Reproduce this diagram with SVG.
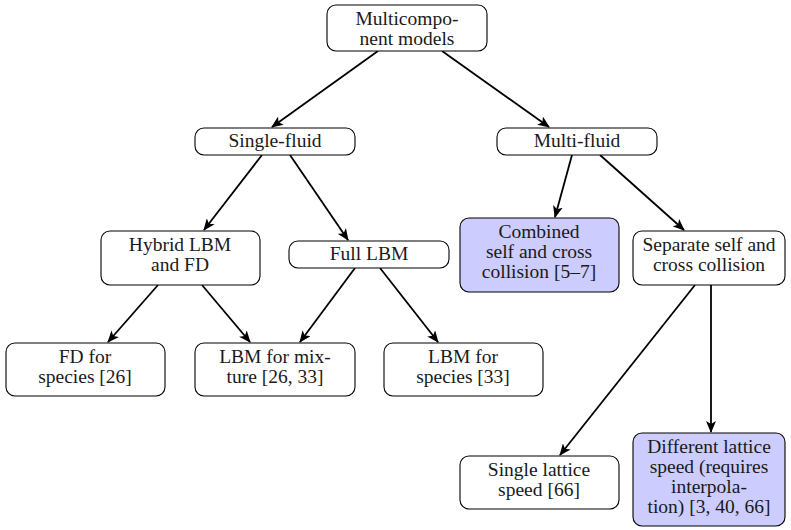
<svg xmlns="http://www.w3.org/2000/svg" width="791" height="530" viewBox="0 0 791 530">
<style>
.box{fill:#fff;stroke:#000;stroke-width:1.1}
.hl{fill:#ccccff;stroke:#000;stroke-width:1.1}
.lbl{font-family:"Liberation Serif","DejaVu Serif",serif;font-size:19.5px;fill:#1a1a1a;text-anchor:middle}
.edge{stroke:#000;stroke-width:1.8;fill:none;marker-end:url(#ah)}
</style>
<defs>
<marker id="ah" viewBox="0 0 12 10" refX="11" refY="5" markerWidth="12" markerHeight="10" markerUnits="userSpaceOnUse" orient="auto">
<path d="M0,0 L12,5 L0,10 L3,5 Z" fill="#000"/>
</marker>
</defs>
<rect width="791" height="530" fill="#fff"/>
<g id="edges">
<line class="edge" x1="378" y1="51" x2="272" y2="127"/>
<line class="edge" x1="442" y1="51" x2="549" y2="127"/>
<line class="edge" x1="262" y1="155" x2="204" y2="230"/>
<line class="edge" x1="290" y1="155" x2="348" y2="240"/>
<line class="edge" x1="572" y1="155" x2="555" y2="217"/>
<line class="edge" x1="600" y1="155" x2="684" y2="230"/>
<line class="edge" x1="158" y1="285" x2="108" y2="342"/>
<line class="edge" x1="202" y1="285" x2="250" y2="342"/>
<line class="edge" x1="355" y1="268" x2="300" y2="342"/>
<line class="edge" x1="380" y1="268" x2="438" y2="342"/>
<line class="edge" x1="695" y1="285" x2="560" y2="455"/>
<line class="edge" x1="711" y1="285" x2="711" y2="432"/>
</g>
<g id="n-multicomponent"><rect class="box" x="327" y="5" width="160" height="46" rx="9"/><text class="lbl" x="407" y="25">Multicompo-</text><text class="lbl" x="407" y="45">nent models</text></g>
<g id="n-single-fluid"><rect class="box" x="195" y="128" width="160" height="27" rx="9"/><text class="lbl" x="275" y="147">Single-fluid</text></g>
<g id="n-multi-fluid"><rect class="box" x="497" y="128" width="160" height="27" rx="9"/><text class="lbl" x="577" y="147">Multi-fluid</text></g>
<g id="n-combined"><rect class="hl" x="460" y="218" width="159" height="74" rx="9"/><text class="lbl" x="539" y="238">Combined</text><text class="lbl" x="539" y="258">self and cross</text><text class="lbl" x="539" y="278">collision [5–7]</text></g>
<g id="n-separate"><rect class="box" x="633" y="231" width="152" height="54" rx="9"/><text class="lbl" x="709" y="251">Separate self and</text><text class="lbl" x="709" y="271">cross collision</text></g>
<g id="n-hybrid"><rect class="box" x="101" y="231" width="159" height="54" rx="9"/><text class="lbl" x="180" y="251">Hybrid LBM</text><text class="lbl" x="180" y="271">and FD</text></g>
<g id="n-full"><rect class="box" x="289" y="241" width="160" height="27" rx="9"/><text class="lbl" x="369" y="260">Full LBM</text></g>
<g id="n-fd-species"><rect class="box" x="6" y="343" width="159" height="53" rx="9"/><text class="lbl" x="85" y="363">FD for</text><text class="lbl" x="85" y="383">species [26]</text></g>
<g id="n-lbm-mixture"><rect class="box" x="195" y="343" width="160" height="53" rx="9"/><text class="lbl" x="275" y="363">LBM for mix-</text><text class="lbl" x="275" y="383">ture [26, 33]</text></g>
<g id="n-lbm-species"><rect class="box" x="384" y="343" width="159" height="53" rx="9"/><text class="lbl" x="463" y="363">LBM for</text><text class="lbl" x="463" y="383">species [33]</text></g>
<g id="n-single-lattice"><rect class="box" x="460" y="456" width="159" height="53" rx="9"/><text class="lbl" x="539" y="476">Single lattice</text><text class="lbl" x="539" y="496">speed [66]</text></g>
<g id="n-different"><rect class="hl" x="633" y="433" width="152" height="93" rx="9"/><text class="lbl" x="709" y="453">Different lattice</text><text class="lbl" x="709" y="473">speed (requires</text><text class="lbl" x="709" y="493">interpola-</text><text class="lbl" x="709" y="513">tion) [3, 40, 66]</text></g>
</svg>
